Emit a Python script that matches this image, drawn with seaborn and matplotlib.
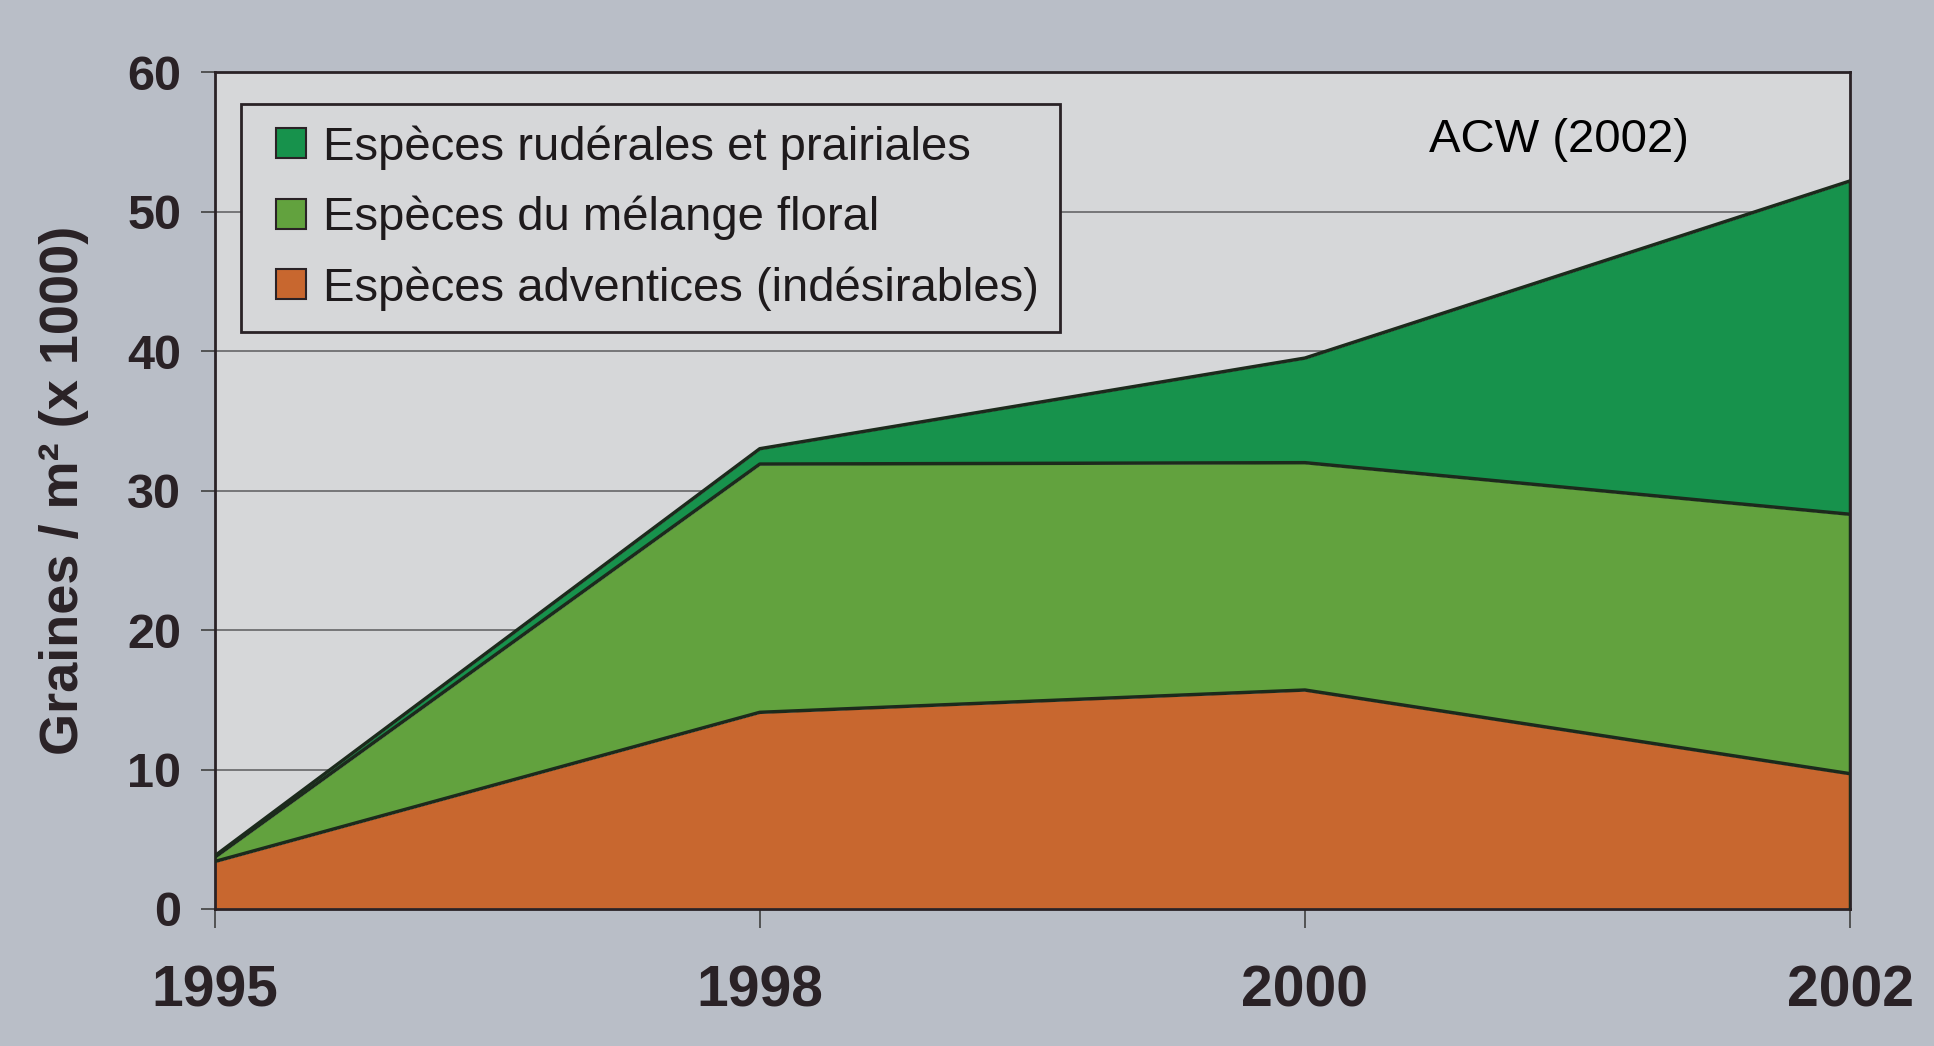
import numpy as np
import pandas as pd
import seaborn as sns
import matplotlib.pyplot as plt
from matplotlib.lines import Line2D

# data (graines / m2, x 1000)
years = ['1995', '1998', '2000', '2002']
adventices = [3.4, 14.1, 15.7, 9.7]
melange = [0.3, 17.8, 16.3, 18.6]
ruderales = [0.1, 1.1, 7.5, 23.9]
labels = ['Espèces rudérales et prairiales',
          'Espèces du mélange floral',
          'Espèces adventices (indésirables)']
colors = ['#17924c', '#62a23e', '#c8672f']  # ruderales, melange, adventices

sns.set_theme(style='white')
plt.rcParams['font.family'] = ['Liberation Sans Narrow', 'Liberation Sans', 'DejaVu Sans']

fig_bg = '#b9bec7'
ax_bg = '#d6d7d9'
edge = '#2a2226'

fig = plt.figure(figsize=(19.34, 10.46), dpi=100, facecolor=fig_bg)
ax = fig.add_axes([0.111, 0.131, 0.8456, 0.80])
ax.set_facecolor(ax_bg)

x = np.arange(len(years))
ax.stackplot(x, adventices, melange, ruderales,
             colors=[colors[2], colors[1], colors[0]], zorder=2)

# boundary lines of each layer
df = pd.DataFrame({'x': x, 'adv': adventices})
df['mel'] = df['adv'] + np.array(melange)
df['rud'] = df['mel'] + np.array(ruderales)
for col in ['adv', 'mel', 'rud']:
    sns.lineplot(data=df, x='x', y=col, ax=ax, color='#1c2a1c', lw=2.5, zorder=3)
ax.plot([x[-1], x[-1]], [0, df['rud'].iloc[-1]], color='#1c2a1c', lw=2.5, zorder=3)

ax.set_xlim(0, 3)
ax.set_ylim(0, 60)
ax.set_yticks(range(0, 61, 10))
ax.set_xticks(x)
ax.set_xticklabels(years)
ax.yaxis.grid(True, color='#6e6e70', lw=1.3, zorder=1)
ax.set_axisbelow(True)
ax.set_xlabel('')
ax.set_ylabel('Graines / m² (x 1000)', fontsize=39, fontweight='bold', color='#2a2226')
ax.yaxis.set_label_coords(-0.077, 0.5)

for s in ax.spines.values():
    s.set_color(edge)
    s.set_linewidth(2)

ax.tick_params(axis='y', left=True, length=10, width=1.3, color='#4a4a4a', pad=14,
               labelsize=35, labelcolor='#2a2226')
ax.tick_params(axis='x', bottom=True, length=14, width=1.3, color='#4a4a4a', pad=26,
               labelsize=41, labelcolor='#2a2226')
for t in ax.get_yticklabels() + ax.get_xticklabels():
    t.set_fontweight('bold')

handles = [Line2D([], [], ls='', marker='s', markersize=21, markerfacecolor=c,
                  markeredgecolor=edge, markeredgewidth=1.5) for c in colors]
leg = ax.legend(handles, labels, loc='upper left', bbox_to_anchor=(0.0158, 0.962),
                borderaxespad=0, fontsize=34, frameon=True, fancybox=False,
                facecolor=ax_bg, edgecolor=edge, framealpha=1, handlelength=1.25,
                handletextpad=0.05, labelspacing=0.55, borderpad=0.45)
leg.get_frame().set_linewidth(2)
for t in leg.get_texts():
    t.set_family(['Liberation Sans', 'DejaVu Sans'])
    t.set_color('#1e1a1c')

ax.text(0.822, 0.919, 'ACW (2002)', transform=ax.transAxes, ha='center', va='center',
        fontsize=34, family=['Liberation Sans', 'DejaVu Sans'], color='black')

fig.savefig('out.png', dpi=100, facecolor=fig_bg)
